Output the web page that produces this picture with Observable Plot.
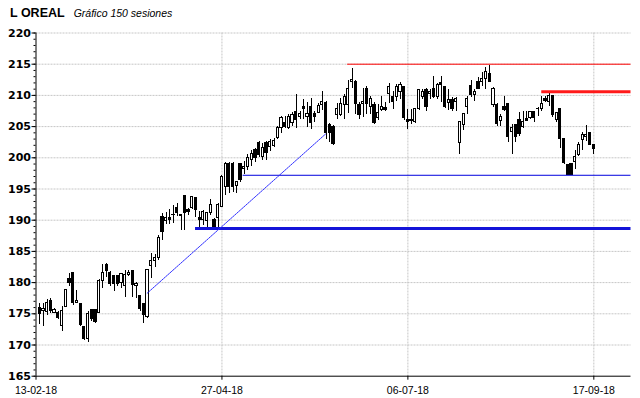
<!DOCTYPE html>
<html>
<head>
<meta charset="utf-8">
<script src="https://cdn.jsdelivr.net/npm/d3@7"></script>
<script src="https://cdn.jsdelivr.net/npm/@observablehq/plot@0.6"></script>
<style>
  html, body { margin: 0; padding: 0; background: #fff; }
  #wrap { position: relative; width: 640px; height: 398px; overflow: hidden; }
  #title { position: absolute; left: 10px; top: 3px; white-space: nowrap; font-family: "Liberation Sans", Arial, sans-serif; color: #000; }
  #title .t1 { font-weight: bold; font-size: 12.5px; }
  #title .t2 { font-style: italic; font-size: 10.5px; margin-left: 9px; }
</style>
</head>
<body>
<div id="wrap">
  <div id="chart"></div>
  <div id="title"><span class="t1">L OREAL</span><span class="t2">Gráfico 150 sesiones</span></div>
</div>
<script>
const opens = [176.0,175.4,175.3,177.0,175.2,175.2,173.0,176.1,180.5,181.5,176.7,176.5,172.9,170.9,175.6,175.6,175.1,180.2,182.8,181.6,
181.0,181.1,179.9,179.5,181.2,181.8,179.4,177.8,176.6,174.5,182.7,183.4,184.0,190.5,189.8,190.4,190.8,192.0,190.8,193.8,
191.7,191.9,193.5,190.3,190.0,189.9,191.1,190.0,190.3,192.1,195.3,199.0,199.0,195.5,199.0,198.2,198.6,199.7,201.2,202.3,
200.2,202.4,201.7,201.9,203.1,204.7,205.5,204.8,205.6,207.4,206.6,208.1,206.6,208.2,207.0,207.2,208.5,208.8,205.3,205.0,
206.9,206.9,208.5,208.5,212.2,212.2,208.5,208.6,211.1,208.2,208.5,206.3,207.7,208.0,210.3,209.7,209.8,210.6,211.3,206.0,
205.9,205.8,207.9,209.7,210.9,210.2,211.1,209.8,212.0,211.4,208.8,209.3,209.0,202.3,205.3,208.2,211.5,210.1,212.2,212.2,
212.7,213.4,208.5,208.5,205.9,208.2,208.6,204.2,205.2,206.0,204.9,206.2,206.3,207.4,207.9,207.8,209.5,208.9,209.9,206.0,
207.8,203.0,198.9,199.0,199.3,200.4,202.8,203.4,204.0,202.1];
const highs = [176.7,176.7,177.3,177.4,175.9,175.4,176.1,178.9,181.5,181.6,178.8,176.7,173.0,175.3,175.7,175.7,180.5,182.9,183.0,181.8,
181.1,181.1,181.5,181.9,181.9,181.9,180.0,178.0,176.7,182.1,184.7,184.5,187.6,191.1,191.2,191.7,192.4,192.6,190.8,194.0,
191.9,193.8,193.6,191.4,191.6,191.3,193.3,190.3,192.6,197.2,199.3,199.3,199.3,196.2,199.1,199.4,200.6,201.2,201.5,202.6,
202.3,202.6,202.9,203.1,205.0,206.6,206.6,206.9,207.2,210.1,207.4,209.4,208.8,209.5,207.4,208.7,210.6,209.0,205.5,205.2,
208.7,209.5,210.1,212.4,214.3,212.4,208.8,211.1,211.4,209.8,208.8,208.5,209.8,208.8,211.9,210.6,211.7,212.1,211.4,207.7,
207.7,207.9,211.0,210.9,211.1,210.9,213.0,211.9,213.1,211.5,211.0,209.6,209.6,205.8,207.1,209.8,212.4,211.0,212.8,213.6,
214.5,214.8,211.3,208.7,207.0,209.9,208.7,205.4,205.4,207.3,207.4,207.5,207.5,207.5,208.0,209.9,209.9,210.7,209.9,207.3,
207.9,203.1,199.0,199.0,201.1,202.5,204.1,205.2,204.1,202.2];
const lows = [173.3,172.9,174.8,175.1,175.0,174.1,172.2,176.0,179.4,176.4,176.6,172.9,170.7,170.4,173.7,173.5,175.0,179.0,180.8,179.4,
178.5,179.4,179.0,177.6,181.0,177.6,177.4,175.3,173.5,174.3,180.7,182.5,183.6,186.8,189.3,189.3,189.5,190.6,188.4,188.4,
190.8,191.7,190.5,188.8,189.2,188.4,190.8,188.3,188.8,192.0,194.0,194.3,194.4,194.2,196.0,197.4,198.0,198.6,199.2,200.0,
199.6,199.6,201.0,201.6,202.9,203.9,204.7,204.6,205.0,204.7,206.2,206.2,204.9,204.5,205.7,207.1,207.6,203.0,202.5,202.0,
206.1,206.6,206.2,207.1,211.1,206.9,206.1,206.4,206.9,206.9,205.3,205.9,207.4,207.4,208.7,207.7,209.0,209.3,206.0,204.5,
205.3,205.5,207.6,209.3,207.4,209.3,209.5,209.3,208.8,207.9,207.6,207.4,207.4,200.6,204.4,206.9,209.6,209.0,211.0,211.5,
211.0,212.1,208.1,205.0,205.0,207.5,202.4,200.6,202.4,203.4,204.7,205.8,206.2,205.7,206.6,207.5,208.8,208.2,206.5,205.7,
201.5,199.0,197.3,197.3,198.1,200.2,201.2,202.6,201.9,200.6];
const closes = [175.0,175.7,176.8,175.5,175.6,174.4,175.5,178.8,179.9,176.7,177.0,173.2,170.9,174.9,174.2,173.7,180.3,181.6,181.8,179.8,
179.8,179.8,181.3,181.2,181.6,179.6,179.7,175.8,174.8,182.0,183.4,184.0,187.1,188.1,190.3,190.1,190.9,191.1,190.6,191.2,
191.3,193.7,191.7,190.0,191.3,191.2,192.4,188.8,192.5,196.9,199.0,195.3,195.4,196.2,196.5,198.6,200.0,200.6,199.9,200.5,
201.5,200.7,202.6,202.7,204.7,206.3,204.9,206.6,206.9,206.1,207.0,207.8,207.0,205.5,206.6,208.3,209.0,204.0,204.0,202.2,
207.9,208.7,209.8,211.0,212.4,208.6,206.9,209.0,208.7,209.5,205.5,207.1,208.2,207.7,211.3,208.9,211.4,211.6,206.3,205.8,
206.1,207.8,210.9,210.6,208.2,210.6,209.8,211.6,211.6,208.2,209.3,207.9,209.4,205.8,207.0,209.4,210.0,210.6,211.0,212.6,
213.7,212.2,211.1,205.4,206.6,207.7,203.3,204.7,203.3,203.8,205.8,205.9,207.4,206.3,207.8,208.6,209.1,209.9,206.8,207.2,
203.0,199.2,197.3,197.3,200.1,202.1,203.6,203.6,202.0,201.4];

// x-axis tick labels (session index -> date)
const tickSessions = [0, 50, 100, 150];
const tickLabels = ["13-02-18", "27-04-18", "06-07-18", "17-09-18"];

// horizontal support / resistance levels (price, starting session)
const redThinLevel = [215.0];   const redThinFrom = [83.8];
const redThickLevel = [210.6];  const redThickFrom = [136.0];
const blueThinLevel = [197.2];  const blueThinFrom = [55.7];
const blueThickLevel = [188.65]; const blueThickFrom = [42.9];
const lastSession = 160;
// diagonal trend line (session, price)
const trendSessions = [29.9, 77.85];
const trendPrices = [178.3, 203.8];

const data = opens.map((o, k) => ({i: k + 1, o, h: highs[k], l: lows[k], c: closes[k]}));
const up = data.filter(d => d.c >= d.o);
const down = data.filter(d => d.c < d.o);
const hl = (lv, fr) => lv.map((y, k) => ({y, x1: fr[k], x2: lastSession}));
const trend = trendSessions.map((x, k) => ({x, y: trendPrices[k]}));

const gridStyle = {stroke: "#c6c6c6", strokeOpacity: 1, strokeDasharray: "2,1"};

const chart = Plot.plot({
  width: 640,
  height: 398,
  marginLeft: 35.5,
  marginRight: 9.5,
  marginTop: 32.5,
  marginBottom: 22.3,
  x: {domain: [0, 160], axis: null},
  y: {domain: [165, 220], axis: null, label: null},
  style: {background: "#fff", color: "#000", overflow: "visible"},
  marks: [
    Plot.gridY(d3.range(170, 221, 5), gridStyle),
    Plot.gridX(tickSessions.slice(1), gridStyle),
    Plot.ruleX(data, {x: "i", y1: "l", y2: "h", stroke: "#000", strokeWidth: 1, shapeRendering: "crispEdges"}),
    Plot.rect(up, {x1: d => d.i - 0.3, x2: d => d.i + 0.3, y1: "o", y2: "c", fill: "#fff", stroke: "#000", strokeWidth: 1, shapeRendering: "crispEdges"}),
    Plot.rect(down, {x1: d => d.i - 0.3, x2: d => d.i + 0.3, y1: "c", y2: "o", fill: "#000", stroke: "#000", strokeWidth: 1, shapeRendering: "crispEdges"}),
    Plot.ruleY(hl(redThinLevel, redThinFrom), {y: "y", x1: "x1", x2: "x2", stroke: "#ff0000", strokeWidth: 1}),
    Plot.ruleY(hl(redThickLevel, redThickFrom), {y: "y", x1: "x1", x2: "x2", stroke: "#ff1a1a", strokeWidth: 3}),
    Plot.ruleY(hl(blueThinLevel, blueThinFrom), {y: "y", x1: "x1", x2: "x2", stroke: "#0000dd", strokeWidth: 1}),
    Plot.ruleY(hl(blueThickLevel, blueThickFrom), {y: "y", x1: "x1", x2: "x2", stroke: "#1414d8", strokeWidth: 3}),
    Plot.line(trend, {x: "x", y: "y", stroke: "#2a2aff", strokeWidth: 1, strokeDasharray: "1.5,1"}),
    Plot.ruleX([0], {stroke: "#000", strokeWidth: 1}),
    Plot.ruleY([165], {stroke: "#000", strokeWidth: 1}),
    Plot.axisY(d3.range(165, 221, 1), {tickSize: 2, tickFormat: () => "", label: null, stroke: "#000"}),
    Plot.axisY(d3.range(165, 221, 5), {tickSize: 4, tickPadding: 1, label: null, fontSize: 11, fontWeight: "bold", fontFamily: "DejaVu Sans", fill: "#000", stroke: "#000"}),
    Plot.axisX(tickSessions, {tickSize: 4, tickPadding: 6, label: null, tickFormat: d => tickLabels[tickSessions.indexOf(d)], fontSize: 10.5, fontFamily: "Liberation Sans", fill: "#000", stroke: "#000"})
  ]
});
document.getElementById("chart").appendChild(chart);
</script>
</body>
</html>
